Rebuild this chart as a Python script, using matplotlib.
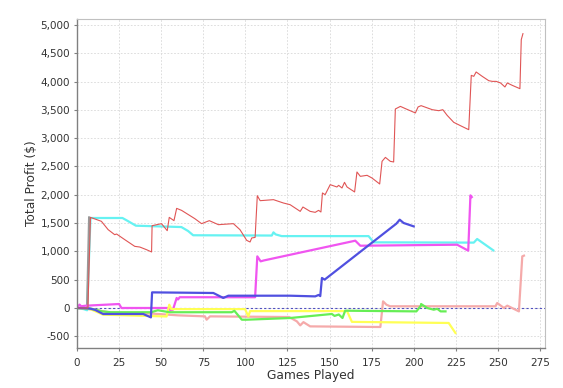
import matplotlib
matplotlib.use("Agg")
import matplotlib.pyplot as plt
from matplotlib.ticker import FuncFormatter, MultipleLocator

# ---- data (games played, total profit $) ----
red_x = [0, 6.5, 8, 10, 14.5, 18.5, 22.4, 23.5, 28.4, 34.3, 37.3, 41.3, 44.3, 44.6,
         50.2, 53.6, 54.8, 57.6, 59.2, 62.1, 70, 74, 78.6, 84, 92.9, 96.8, 100.8,
         102.8, 103.8, 105.8, 107.1, 108.8, 116.7, 122.6, 126.6, 132.6, 134.2, 138.5,
         141.5, 143.5, 144.9, 145.8, 147.4, 150.4, 154.4, 155.4, 157.4, 158.9, 160.4,
         164.9, 166.3, 168.3, 172.3, 175.2, 179.8, 181.2, 183.2, 186.1, 188.1, 189.1,
         192.1, 195.1, 201, 202.6, 204.4, 211, 214.9, 217.3, 219.9, 223.8, 227.8,
         231.8, 232.7, 234.2, 235.7, 237.1, 240.7, 244.6, 246.7, 249, 251.6, 254.2,
         255.6, 258.6, 263.1, 263.9, 264.9]
red_y = [0, 0, 1600, 1580, 1531, 1384, 1295, 1307, 1207, 1089, 1077, 1030, 990, 1454,
         1490, 1366, 1601, 1543, 1760, 1725, 1578, 1490, 1543, 1472, 1490, 1384, 1195,
         1166, 1237, 1247, 1984, 1896, 1914, 1855, 1825, 1707, 1784, 1707,
         1690, 1725, 1696, 2032, 2002, 2179, 2138, 2167, 2120, 2220, 2138,
         2050, 2403, 2326, 2344, 2297, 2191, 2591, 2661, 2591, 2580, 3516,
         3562, 3522, 3446, 3552, 3575, 3504, 3486, 3504, 3403, 3280, 3221,
         3163, 3151, 4110, 4093, 4170, 4093, 4016, 4004, 4004, 3976, 3905,
         3976, 3933, 3875, 4741, 4847]

blue_x = [0, 7.6, 10.5, 15.5, 39.3, 43.9, 44.6, 81, 86.9, 89.9, 126.6, 141.5, 143.5,
          144.5, 145.5, 147.1, 189.7, 191.7, 194, 200]
blue_y = [0, -10, -30, -106, -106, -166, 276, 265, 177, 217, 217, 205, 230,
          210, 530, 501, 1490, 1560, 1502, 1442]

green_x = [0, 8, 15, 20, 44, 48, 52, 55, 91.9, 93.5, 97.9, 100.8, 126.6, 151.4, 153,
           155.5, 157.7, 159.3, 201.6, 204.3, 204.4, 208, 211.9, 214, 216, 218.9]
green_y = [0, -10, -60, -75, -75, -40, -60, -75, -75, -50, -207, -207, -177, -106, -140,
           -115, -177, -48, -60, 41, 70, 0, -30, -15, -60, -60]

yellow_x = [0, 8, 15.5, 53.2, 54.8, 56, 57, 99.8, 101.8, 102.8, 160.4, 163.3, 220.8, 224.8]
yellow_y = [0, -20, -118, -150, 58, -20, -20, -20, -148, -55, -55, -245, -265, -442]

magenta_x = [0, 1.5, 2.5, 5, 25, 26.4, 54.2, 55.5, 57, 59.2, 60, 61, 105.8, 107.1,
             109.1, 111, 165.3, 168.3, 225.8, 232.4, 233.7, 234.5]
magenta_y = [0, 60, 30, 40, 70, 0, 0, -40, -30, 177, 150, 190, 190, 912,
             824, 840, 1189, 1100, 1118, 1013, 1990, 1960]

cyan_x = [0, 4, 6, 8, 27, 30, 35, 62, 66, 69, 115.7, 116.7, 118, 121.6, 173.2, 176.2,
          235.7, 237.7, 241, 247.3]
cyan_y = [0, -20, -40, 1590, 1590, 1540, 1454, 1430, 1360, 1285, 1280, 1336, 1300, 1270,
          1270, 1160, 1155, 1219, 1150, 1018]

pink_x = [0, 10, 20, 45, 60, 76, 77, 79, 126, 130.6, 132.6, 134.5, 138.5, 180.2,
          181.8, 183.8, 186, 248.6, 249.6, 253.6, 255.6, 262.5, 264.5, 265.5]
pink_y = [0, -30, -80, -100, -130, -148, -207, -148, -160, -236, -307, -250, -325, -336,
          117, 58, 30, 30, 88, 0, 41, -60, 912, 925]

gray_x = [0, 6, 7.2]
gray_y = [0, 0, 1600]

series = [
    (pink_x, pink_y, '#f5aaaa', 1.6),
    (cyan_x, cyan_y, '#66f2f2', 1.6),
    (gray_x, gray_y, '#999999', 1.6),
    (magenta_x, magenta_y, '#f055f0', 1.6),
    (yellow_x, yellow_y, '#ffff55', 1.6),
    (green_x, green_y, '#66ee55', 1.6),
    (blue_x, blue_y, '#5050e0', 1.6),
    (red_x, red_y, '#e05555', 0.8),
]

fig = plt.figure(figsize=(5.63, 3.88), dpi=100)
ax = fig.add_axes([77 / 563, 1 - 348 / 388, (545 - 77) / 563, (348 - 19) / 388])

ax.axhline(0, color='#5050c0', lw=0.8, ls=(0, (2, 2)), zorder=1)
for xs, ys, col, lw in series:
    ax.plot(xs, ys, color=col, lw=lw, zorder=2)

ax.set_xlim(0, 278)
ax.set_ylim(-707, 5106)
ax.xaxis.set_major_locator(MultipleLocator(25))
ax.yaxis.set_major_locator(MultipleLocator(500))
ax.yaxis.set_major_formatter(FuncFormatter(lambda v, p: f"{int(v):,}"))

ax.grid(True, color='#d8d8d8', lw=0.6, ls=(0, (2, 2)))
ax.set_axisbelow(True)
for s in ['top', 'right']:
    ax.spines[s].set_color('#c0c0c0')
for s in ['left', 'bottom']:
    ax.spines[s].set_color('#808080')
    ax.spines[s].set_linewidth(1.0)
ax.tick_params(direction='out', length=2, width=0.8, color='#808080',
               labelsize=7.5, labelcolor='#333333', pad=3)
ax.tick_params(axis='x', pad=5)

ax.set_xlabel('Games Played', fontsize=8.8, color='#333333', labelpad=1)
ax.set_ylabel('Total Profit ($)', fontsize=8.8, color='#333333', labelpad=2)

fig.savefig('out.png', dpi=100)
